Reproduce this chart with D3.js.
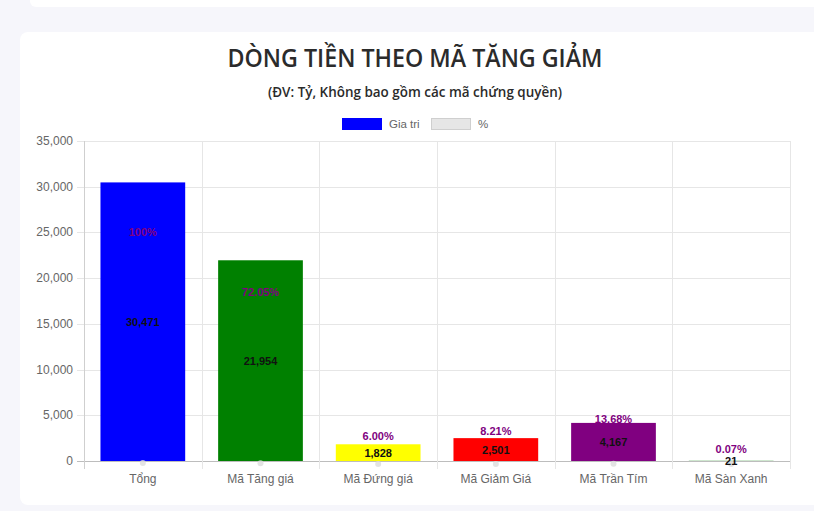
<!DOCTYPE html>
<html>
<head>
<meta charset="utf-8">
<script src="https://cdn.jsdelivr.net/npm/d3@7"></script>
<style>
  body { margin: 0; background: #f6f6fb; width: 814px; height: 511px; overflow: hidden; }
  svg { display: block; }
</style>
</head>
<body>
<svg id="chart" width="814" height="511"></svg>
<script>
// categories and series
var categories = ['Tổng', 'Mã Tăng giá', 'Mã Đứng giá', 'Mã Giảm Giá', 'Mã Trần Tím', 'Mã Sàn Xanh'];
var values = [30471, 21954, 1828, 2501, 4167, 21];
var percents = [100, 72.05, 6.00, 8.21, 13.68, 0.07];
var barColors = ['#0000ff', '#008000', '#ffff00', '#ff0000', '#800080', '#008000'];
var yTicks = [0, 5000, 10000, 15000, 20000, 25000, 30000, 35000];

var svg = d3.select('#chart');

// top strip and card
svg.append('rect').attr('x', 30).attr('y', -10).attr('width', 800).attr('height', 17)
    .attr('rx', 6).attr('fill', '#ffffff');
svg.append('rect').attr('x', 20).attr('y', 32).attr('width', 810).attr('height', 473)
    .attr('rx', 8).attr('fill', '#ffffff');

svg.append('text')
    .attr('x', 415).attr('y', 67)
    .attr('text-anchor', 'middle')
    .attr('font-family', 'Open Sans, sans-serif')
    .attr('font-size', 25).attr('font-weight', 600)
    .attr('fill', '#2b2b2b')
    .attr('textLength', 375).attr('lengthAdjust', 'spacingAndGlyphs')
    .text('DÒNG TIỀN THEO MÃ TĂNG GIẢM');

svg.append('text')
    .attr('x', 415).attr('y', 97)
    .attr('text-anchor', 'middle')
    .attr('font-family', 'Open Sans, sans-serif')
    .attr('font-size', 14).attr('font-weight', 600)
    .attr('fill', '#2b2b2b')
    .attr('textLength', 294).attr('lengthAdjust', 'spacingAndGlyphs')
    .text('(ĐV: Tỷ, Không bao gồm các mã chứng quyền)');

// legend
var legend = svg.append('g').attr('font-family', 'Liberation Sans, Arial, sans-serif')
    .attr('font-size', 11.5).attr('fill', '#666');
legend.append('rect').attr('x', 342).attr('y', 118).attr('width', 40).attr('height', 12)
    .attr('fill', '#0000ff');
legend.append('text').attr('x', 389).attr('y', 128).text('Gia tri');
legend.append('rect').attr('x', 431.5).attr('y', 118.5).attr('width', 39).attr('height', 11)
    .attr('fill', '#e6e6e6').attr('stroke', '#cfcfcf');
legend.append('text').attr('x', 478).attr('y', 128).text('%');

var plotLeft = 84, plotRight = 790, plotTop = 141, plotBottom = 461;

var x = d3.scaleBand().domain(categories).range([plotLeft, plotRight]).paddingInner(0).paddingOuter(0);
var y = d3.scaleLinear().domain([0, 35000]).range([plotBottom, plotTop]);

// grid
var grid = svg.append('g');
grid.selectAll('line.h').data(yTicks).enter().append('line')
    .attr('x1', plotLeft - 7).attr('x2', plotRight)
    .attr('y1', function (d) { return Math.round(y(d)) + 0.5; })
    .attr('y2', function (d) { return Math.round(y(d)) + 0.5; })
    .attr('stroke', function (d) { return d === 0 ? '#bdbdbd' : '#e6e6e6'; });
var vlines = categories.map(function (c) { return x(c); }).concat([plotRight]);
grid.selectAll('line.v').data(vlines).enter().append('line')
    .attr('x1', function (d) { return Math.round(d) + 0.5; })
    .attr('x2', function (d) { return Math.round(d) + 0.5; })
    .attr('y1', plotTop).attr('y2', plotBottom + 8)
    .attr('stroke', function (d, i) { return i === 0 ? '#cfcfcf' : '#e6e6e6'; });

// y axis labels
svg.append('g')
    .attr('font-family', 'Liberation Sans, Arial, sans-serif')
    .attr('font-size', 12).attr('fill', '#666')
    .selectAll('text').data(yTicks).enter().append('text')
    .attr('x', 73).attr('y', function (d) { return y(d) + 4; })
    .attr('text-anchor', 'end')
    .text(d3.format(','));

// x axis labels
svg.append('g')
    .attr('font-family', 'Liberation Sans, Arial, sans-serif')
    .attr('font-size', 12).attr('fill', '#666')
    .selectAll('text').data(categories).enter().append('text')
    .attr('x', function (d) { return x(d) + x.bandwidth() / 2; })
    .attr('y', 483)
    .attr('text-anchor', 'middle')
    .text(function (d) { return d; });

// bars
var bw = x.bandwidth() * 0.72;
svg.append('g').selectAll('rect').data(values).enter().append('rect')
    .attr('x', function (d, i) { return x(categories[i]) + (x.bandwidth() - bw) / 2; })
    .attr('y', function (d) { return y(d); })
    .attr('width', bw)
    .attr('height', function (d) { return y(0) - y(d); })
    .attr('fill', function (d, i) { return barColors[i]; });

// percent series points (near zero)
svg.append('g').selectAll('circle').data(percents).enter().append('circle')
    .attr('cx', function (d, i) { return x(categories[i]) + x.bandwidth() / 2; })
    .attr('cy', function (d) { return y(d) + 3; })
    .attr('r', 3)
    .attr('fill', '#dcdcdc')
    .attr('opacity', 0.8);

// value labels
svg.append('g')
    .attr('font-family', 'Liberation Sans, Arial, sans-serif')
    .attr('font-size', 11).attr('font-weight', 'bold').attr('fill', '#111')
    .selectAll('text').data(values).enter().append('text')
    .attr('x', function (d, i) { return x(categories[i]) + x.bandwidth() / 2; })
    .attr('y', function (d) { return y(d / 2) + 4; })
    .attr('text-anchor', 'middle')
    .text(d3.format(','));

// percent labels
svg.append('g')
    .attr('font-family', 'Liberation Sans, Arial, sans-serif')
    .attr('font-size', 11).attr('font-weight', 'bold').attr('fill', '#800080')
    .selectAll('text').data(percents).enter().append('text')
    .attr('x', function (d, i) { return x(categories[i]) + x.bandwidth() / 2; })
    .attr('y', function (d, i) { return y(values[i] * 0.78) - 8; })
    .attr('text-anchor', 'middle')
    .text(function (d) { return d === 100 ? '100%' : d.toFixed(2) + '%'; });
</script>
</body>
</html>
